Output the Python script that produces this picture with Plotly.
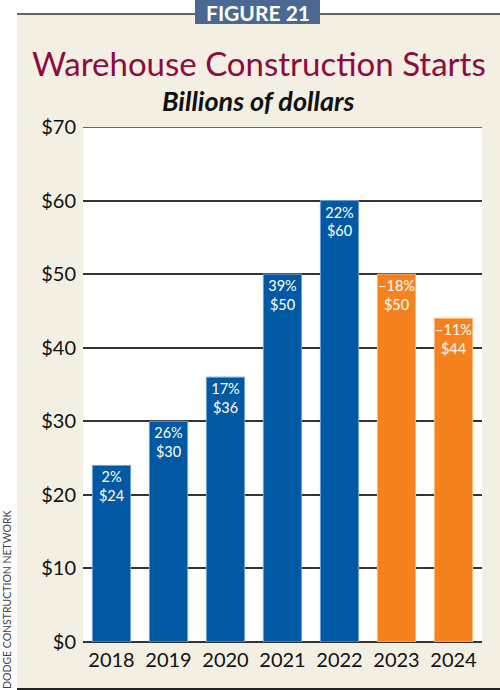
import plotly.graph_objects as go

years = ["2018", "2019", "2020", "2021", "2022", "2023", "2024"]
values = [24, 30, 36, 50, 60, 50, 44]
pct_change = ["2%", "26%", "17%", "39%", "22%", "–18%", "–11%"]
is_forecast = [False, False, False, False, False, True, True]
tick_vals = [0, 10, 20, 30, 40, 50, 60, 70]
tick_text = ["$0", "$10", "$20", "$30", "$40", "$50", "$60", "$70"]

BLUE = "#0159a3"
ORANGE = "#f5821f"
W, H = 500, 690
L, R, T, B = 83, 482, 127, 642  # plot area in pixels


def px(x):
    return (x - L) / (R - L)


def py(y):
    return (B - y) / (B - T)


colors = [ORANGE if f else BLUE for f in is_forecast]
line_colors = ["#ffb77a" if f else "#6f9fd2" for f in is_forecast]
labels = [f"{p}<br>${v}" for p, v in zip(pct_change, values)]

fig = go.Figure(go.Bar(
    x=years, y=values,
    marker=dict(color=colors, line=dict(color=line_colors, width=1)),
    text=labels, textposition="inside", insidetextanchor="end",
    textangle=0,
    textfont=dict(family="Lato", size=14.5, color="white"),
    cliponaxis=False,
))

font = "Lato"
shapes = [
    # beige panel
    dict(type="rect", xref="paper", yref="paper", layer="below",
         x0=px(17), x1=px(501), y0=py(689), y1=py(14),
         fillcolor="#f4efe3", line=dict(width=0)),
    # white plot area
    dict(type="rect", xref="paper", yref="paper", layer="below",
         x0=0, x1=1, y0=0, y1=1,
         fillcolor="white", line=dict(width=0)),
    # top gridline ($70)
    dict(type="line", xref="paper", yref="y", layer="below",
         x0=0, x1=1, y0=tick_vals[-1], y1=tick_vals[-1],
         line=dict(color="#333333", width=1.5)),
    # top rule
    dict(type="line", xref="paper", yref="paper",
         x0=px(17), x1=px(501), y0=py(14), y1=py(14),
         line=dict(color="#333333", width=1.5)),
    # bottom rule
    dict(type="line", xref="paper", yref="paper",
         x0=px(17), x1=px(501), y0=py(689), y1=py(689),
         line=dict(color="#222222", width=2)),
    # figure label box
    dict(type="rect", xref="paper", yref="paper",
         x0=px(195), x1=px(320), y0=py(24), y1=py(-2),
         fillcolor="#4a6892", line=dict(width=0)),
]

annotations = [
    dict(text="<b>FIGURE 21</b>", x=px(258), y=py(12), xref="paper", yref="paper",
         showarrow=False, font=dict(family=font, size=21, color="white"),
         xanchor="center", yanchor="middle"),
    dict(text="Warehouse Construction Starts", x=px(259), y=py(63), xref="paper",
         yref="paper", showarrow=False,
         font=dict(family=font, size=33, color="#8e0b3e"),
         xanchor="center", yanchor="middle"),
    dict(text="<b><i>Billions of dollars</i></b>", x=px(258), y=py(100), xref="paper",
         yref="paper", showarrow=False,
         font=dict(family=font, size=27, color="#111111"),
         xanchor="center", yanchor="middle"),
    dict(text="DODGE CONSTRUCTION NETWORK", x=px(7), y=py(600), xref="paper",
         yref="paper", showarrow=False, textangle=-90,
         font=dict(family=font, size=10.5, color="#444444"),
         xanchor="center", yanchor="middle"),
]

fig.update_layout(
    width=W, height=H,
    margin=dict(l=L, r=W - R, t=T, b=H - B, pad=0),
    paper_bgcolor="white", plot_bgcolor="white",
    bargap=0.33, showlegend=False,
    uniformtext=dict(minsize=14.5, mode="show"),
    shapes=shapes, annotations=annotations,
    font=dict(family=font, color="#111111"),
)
fig.update_xaxes(
    type="category", showgrid=False, showline=False, ticks="",
    ticklabelstandoff=4,
    tickfont=dict(family=font, size=20, color="#111111"),
)
fig.update_yaxes(
    range=[0, 70], tickvals=tick_vals, ticktext=tick_text,
    showgrid=True, gridcolor="#333333", gridwidth=1.5,
    zeroline=True, zerolinecolor="#333333", zerolinewidth=1.5,
    showline=False, ticks="", ticklabelstandoff=6,
    tickfont=dict(family=font, size=20, color="#111111"),
)

fig.write_html("out.html")
